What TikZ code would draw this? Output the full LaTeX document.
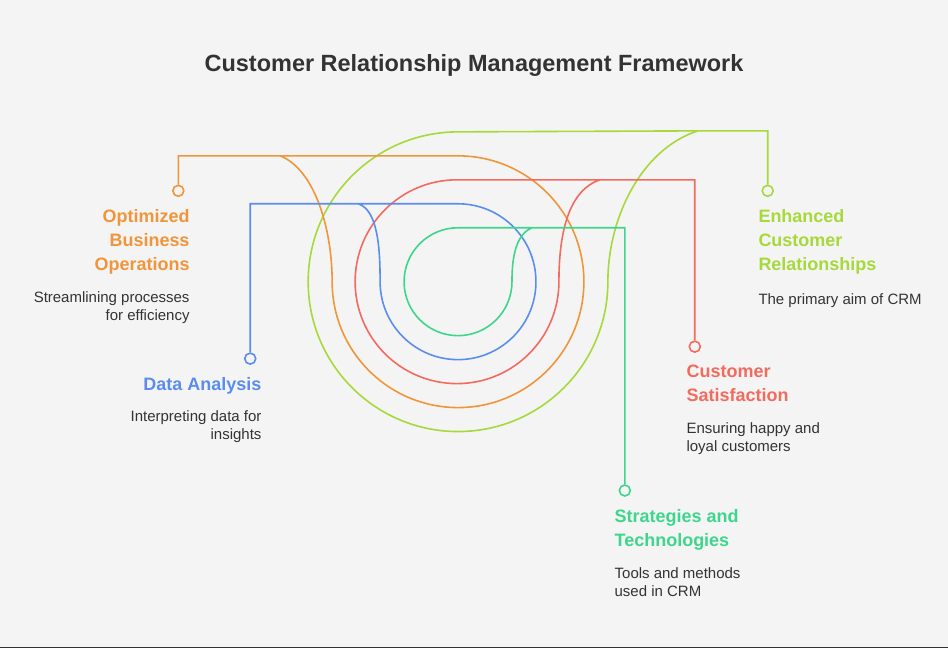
\documentclass[tikz,border=0pt]{standalone}
\usepackage{fontspec}
\setmainfont{Liberation Sans}
\definecolor{bgcol}{HTML}{F4F4F4}
\definecolor{txtcol}{HTML}{333333}
\definecolor{orangecol}{HTML}{F0953A}
\definecolor{bluecol}{HTML}{5B8DEF}
\definecolor{redcol}{HTML}{F26B5E}
\definecolor{greencol}{HTML}{3DD68C}
\definecolor{limecol}{HTML}{A6D93A}
\begin{document}
\begin{tikzpicture}%
	[x=1pt, y=-1pt,
	line width=1.6pt,
	dot/.style={circle,draw,fill=bgcol,inner sep=0pt,minimum size=11pt,line width=1.6pt},
	headl/.style={font=\bfseries\fontsize{18}{24}\selectfont,align=right,anchor=north east,inner sep=0pt},
	headr/.style={font=\bfseries\fontsize{18}{24}\selectfont,align=left,anchor=north west,inner sep=0pt},
	descl/.style={font=\fontsize{15}{18}\selectfont,text=txtcol,align=right,anchor=north east,inner sep=0pt},
	descr/.style={font=\fontsize{15}{18}\selectfont,text=txtcol,align=left,anchor=north west,inner sep=0pt}]
%
\fill[bgcol] (0,0) rectangle (948,649);
\draw[txtcol,line width=1pt] (0,648) -- (948,648);
\node[font=\bfseries\fontsize{23.5}{28}\selectfont,text=txtcol] (title) at (474,66) {Customer Relationship Management Framework};
%%
%% leader dots
%%
\node[dot,draw=orangecol] (opt) at (178,191) {};
\node[dot,draw=bluecol] (data) at (250,359) {};
\node[dot,draw=redcol] (sat) at (695,347) {};
\node[dot,draw=greencol] (strat) at (625,491) {};
\node[dot,draw=limecol] (enh) at (768,191) {};
%%
%% rings
%%
\draw[limecol] (enh.north) -- (768,131) -- (698,131) .. controls (640,150) and (608,220) .. (608,282)
	arc[start angle=0,end angle=180,radius=150] arc[start angle=180,end angle=270,radius=150] -- (698,131);
\draw[orangecol] (opt.north) -- (178,156) -- (280,156) .. controls (315,170) and (332,230) .. (332,282)
	arc[start angle=180,end angle=0,radius=126] arc[start angle=0,end angle=-90,radius=126] -- (280,156);
\draw[redcol] (sat.north) -- (695,180) -- (600,180) .. controls (570,190) and (559,230) .. (559,282)
	arc[start angle=0,end angle=180,radius=102] arc[start angle=180,end angle=270,radius=102] -- (600,180);
\draw[bluecol] (data.north) -- (250,204) -- (358,204) .. controls (378,210) and (380,250) .. (380,282)
	arc[start angle=180,end angle=0,radius=78] arc[start angle=0,end angle=-90,radius=78] -- (358,204);
\draw[greencol] (strat.north) -- (625,228) -- (532,228) .. controls (515,235) and (512,260) .. (512,282)
	arc[start angle=0,end angle=180,radius=54] arc[start angle=180,end angle=270,radius=54] -- (532,228);
%%
%% labels
%%
\node[headl,text=orangecol] (opth) at (190,209) {Optimized\\Business\\Operations};
\node[descl] (optd) at (190,291) {Streamlining processes\\for efficiency};
\node[headl,text=bluecol] (datah) at (262,377) {Data Analysis};
\node[descl] (datad) at (262,410) {Interpreting data for\\insights};
\node[headr,text=redcol] (sath) at (686,365) {Customer\\Satisfaction};
\node[descr] (satd) at (686,422) {Ensuring happy and\\loyal customers};
\node[headr,text=greencol] (strath) at (614,509) {Strategies and\\Technologies};
\node[descr] (stratd) at (614,567) {Tools and methods\\used in CRM};
\node[headr,text=limecol] (enhh) at (758,209) {Enhanced\\Customer\\Relationships};
\node[descr] (enhd) at (758,293) {The primary aim of CRM};
\end{tikzpicture}
\end{document}
